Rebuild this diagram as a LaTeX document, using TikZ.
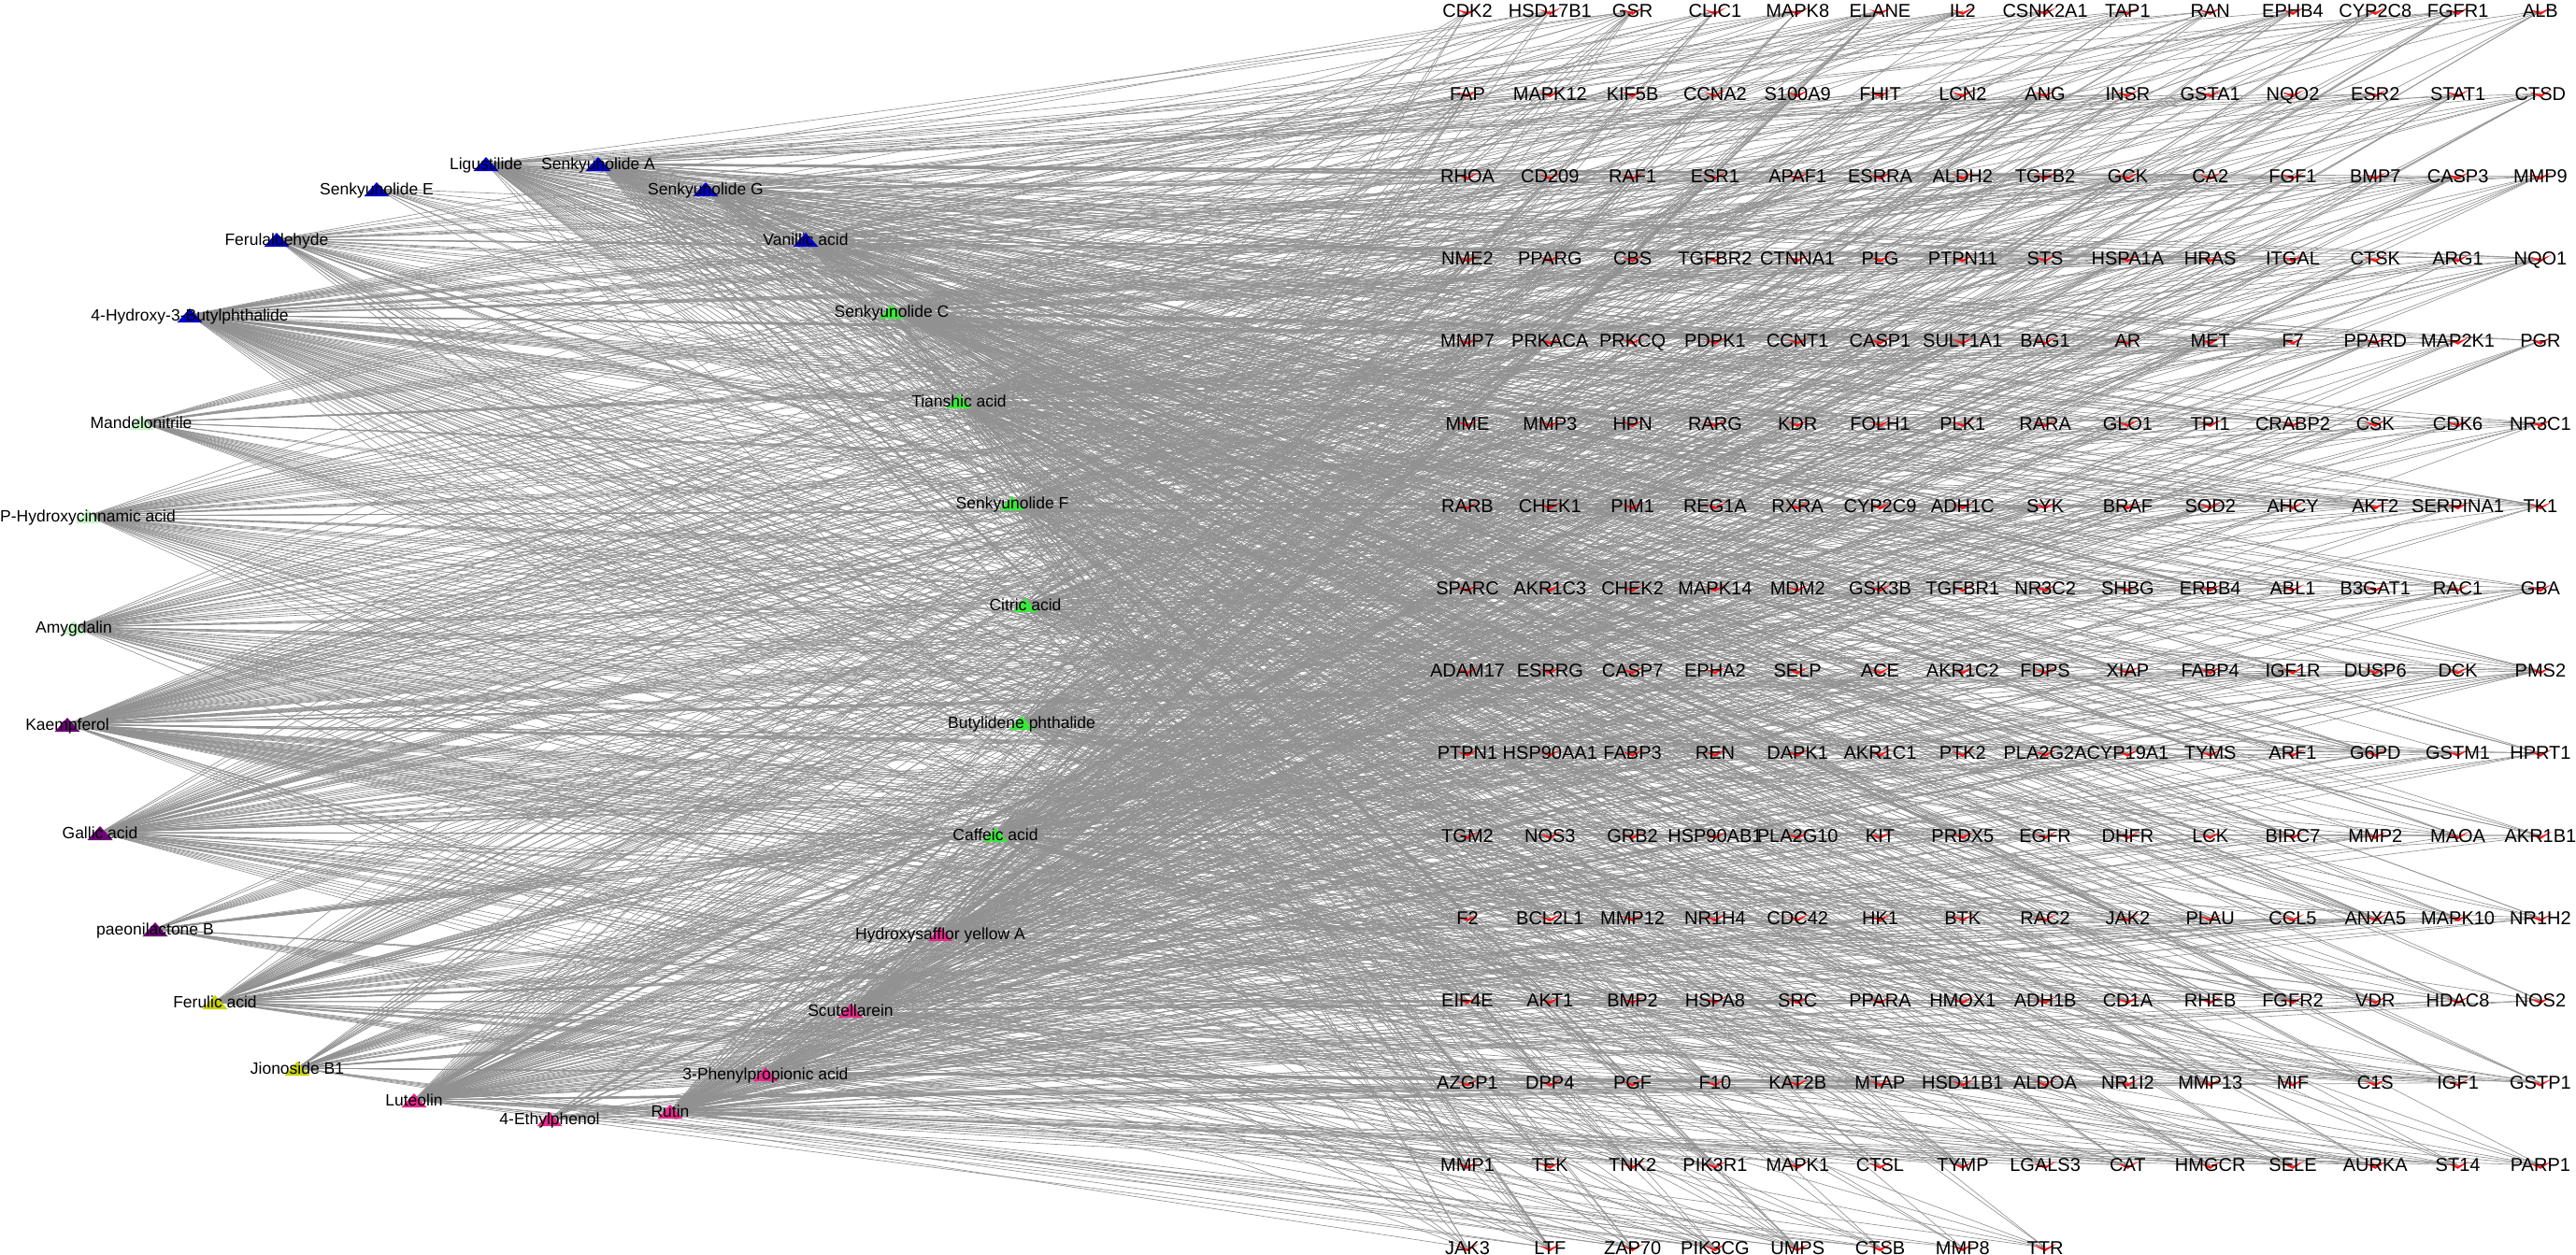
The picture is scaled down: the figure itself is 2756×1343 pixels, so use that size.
\documentclass[tikz,border=0pt]{standalone}
\usepackage{fontspec}
\setmainfont{Liberation Sans}
\pgfdeclarelayer{bg}
\pgfsetlayers{bg,main}
\definecolor{edgec}{RGB}{145,145,145}
\definecolor{cblue}{RGB}{0,0,200}
\definecolor{cgreen}{RGB}{60,230,60}
\definecolor{cpale}{RGB}{200,245,200}
\definecolor{cpurple}{RGB}{110,0,120}
\definecolor{cyellow}{RGB}{200,210,0}
\definecolor{cpink}{RGB}{230,40,140}
\definecolor{gred}{RGB}{255,20,20}
\tikzset{
 edge/.style={draw=edgec, line width=0.32pt},
 genelabel/.style={anchor=base, inner sep=0pt, font=\fontsize{10}{12}\selectfont},
 cmplabel/.style={anchor=base, inner sep=0pt, font=\fontsize{8.75}{10}\selectfont},
}
\begin{document}
\begin{tikzpicture}[x=0.5pt,y=-0.5pt]
\useasboundingbox (0,0) rectangle (2756,1343);
% targets
\foreach \nm [count=\n from 0] in {CDK2,HSD17B1,GSR,CLIC1,MAPK8,ELANE,IL2,CSNK2A1,TAP1,RAN,EPHB4,CYP2C8,FGFR1,ALB,
FAP,MAPK12,KIF5B,CCNA2,S100A9,FHIT,LCN2,ANG,INSR,GSTA1,NQO2,ESR2,STAT1,CTSD,
RHOA,CD209,RAF1,ESR1,APAF1,ESRRA,ALDH2,TGFB2,GCK,CA2,FGF1,BMP7,CASP3,MMP9,
NME2,PPARG,CBS,TGFBR2,CTNNA1,PLG,PTPN11,STS,HSPA1A,HRAS,ITGAL,CTSK,ARG1,NQO1,
MMP7,PRKACA,PRKCQ,PDPK1,CCNT1,CASP1,SULT1A1,BAG1,AR,MET,F7,PPARD,MAP2K1,PGR,
MME,MMP3,HPN,RARG,KDR,FOLH1,PLK1,RARA,GLO1,TPI1,CRABP2,CSK,CDK6,NR3C1,
RARB,CHEK1,PIM1,REG1A,RXRA,CYP2C9,ADH1C,SYK,BRAF,SOD2,AHCY,AKT2,SERPINA1,TK1,
SPARC,AKR1C3,CHEK2,MAPK14,MDM2,GSK3B,TGFBR1,NR3C2,SHBG,ERBB4,ABL1,B3GAT1,RAC1,GBA,
ADAM17,ESRRG,CASP7,EPHA2,SELP,ACE,AKR1C2,FDPS,XIAP,FABP4,IGF1R,DUSP6,DCK,PMS2,
PTPN1,HSP90AA1,FABP3,REN,DAPK1,AKR1C1,PTK2,PLA2G2A,CYP19A1,TYMS,ARF1,G6PD,GSTM1,HPRT1,
TGM2,NOS3,GRB2,HSP90AB1,PLA2G10,KIT,PRDX5,EGFR,DHFR,LCK,BIRC7,MMP2,MAOA,AKR1B1,
F2,BCL2L1,MMP12,NR1H4,CDC42,HK1,BTK,RAC2,JAK2,PLAU,CCL5,ANXA5,MAPK10,NR1H2,
EIF4E,AKT1,BMP2,HSPA8,SRC,PPARA,HMOX1,ADH1B,CD1A,RHEB,FGFR2,VDR,HDAC8,NOS2,
AZGP1,DPP4,PGF,F10,KAT2B,MTAP,HSD11B1,ALDOA,NR1I2,MMP13,MIF,C1S,IGF1,GSTP1,
MMP1,TEK,TNK2,PIK3R1,MAPK1,CTSL,TYMP,LGALS3,CAT,HMGCR,SELE,AURKA,ST14,PARP1,
JAK3,LTF,ZAP70,PIK3CG,UMPS,CTSB,MMP8,TTR}{
  \pgfmathtruncatemacro{\r}{div(\n,14)}
  \pgfmathtruncatemacro{\c}{mod(\n,14)}
  \pgfmathsetmacro{\gx}{1570+88.3*\c}
  \pgfmathsetmacro{\gy}{12+88.2*\r}
  \coordinate (g\n) at (\gx,\gy);
  \fill[gred] (\gx-12,\gy-2) -- (\gx,\gy+4) -- (\gx+12,\gy-4) -- (\gx,\gy+1) -- cycle;
  \node[genelabel] (t\n) at (\gx,\gy+7) {\nm};
}
% compounds
\foreach \i/\x/\y/\col/\nm in {
1/520/175/cblue/Ligustilide,
2/640/175/cblue/Senkyunolide A,
3/403/202/cblue/Senkyunolide E,
4/755/202/cblue/Senkyunolide G,
5/296/256/cblue/Ferulaldehyde,
6/862/256/cblue/Vanillic acid,
7/203/337/cblue/4-Hydroxy-3-Butylphthalide,
8/954/333/cgreen/Senkyunolide C,
9/151/452/cpale/Mandelonitrile,
10/1026/429/cgreen/Tianshic acid,
11/94/552/cpale/P-Hydroxycinnamic acid,
12/1083/538/cgreen/Senkyunolide F,
13/79/671/cpale/Amygdalin,
14/1097/647/cgreen/Citric acid,
15/1093/773/cgreen/Butylidene phthalide,
16/1065/893/cgreen/Caffeic acid,
17/72/775/cpurple/Kaempferol,
18/107/891/cpurple/Gallic acid,
19/166/994/cpurple/paeonilactone B,
20/1006/999/cpink/Hydroxysafflor yellow A,
21/230/1072/cyellow/Ferulic acid,
22/910/1081/cpink/Scutellarein,
23/318/1143/cyellow/Jionoside B1,
24/819/1149/cpink/3-Phenylpropionic acid,
25/443/1177/cpink/Luteolin,
26/588/1197/cpink/4-Ethylphenol,
27/717/1189/cpink/Rutin}{
  \coordinate (c\i) at (\x,\y);
  \fill[\col] (\x-13.5,\y+8) -- (\x,\y-7) -- (\x+13.5,\y+8) -- cycle;
  \node[cmplabel] (l\i) at (\x,\y+6) {\nm};
}
% edges
\begin{pgfonlayer}{bg}
\fill[white] (0,0) rectangle (2756,1343);
\foreach \i/\d/\p/\q in {1/80/5/5,2/90/7/17,3/12/11/40,4/80/13/3,5/50/17/77,6/80/19/11,7/115/23/2,
8/115/29/9,9/40/31/100,10/115/37/31,11/65/41/8,12/80/43/60,13/65/47/19,14/65/53/150,15/80/59/44,
16/90/61/6,17/125/67/13,18/100/71/70,19/30/73/120,20/80/79/33,21/90/83/1,22/100/89/52,
23/50/97/88,24/50/101/160,25/125/103/27,26/25/107/200,27/115/113/14}{
  \foreach \k in {1,...,\d}{
    \pgfmathtruncatemacro{\j}{mod(\p*\k+\q,218)}
    \draw[edge] (c\i) -- (g\j);
  }
}
\end{pgfonlayer}
\end{tikzpicture}
\end{document}
